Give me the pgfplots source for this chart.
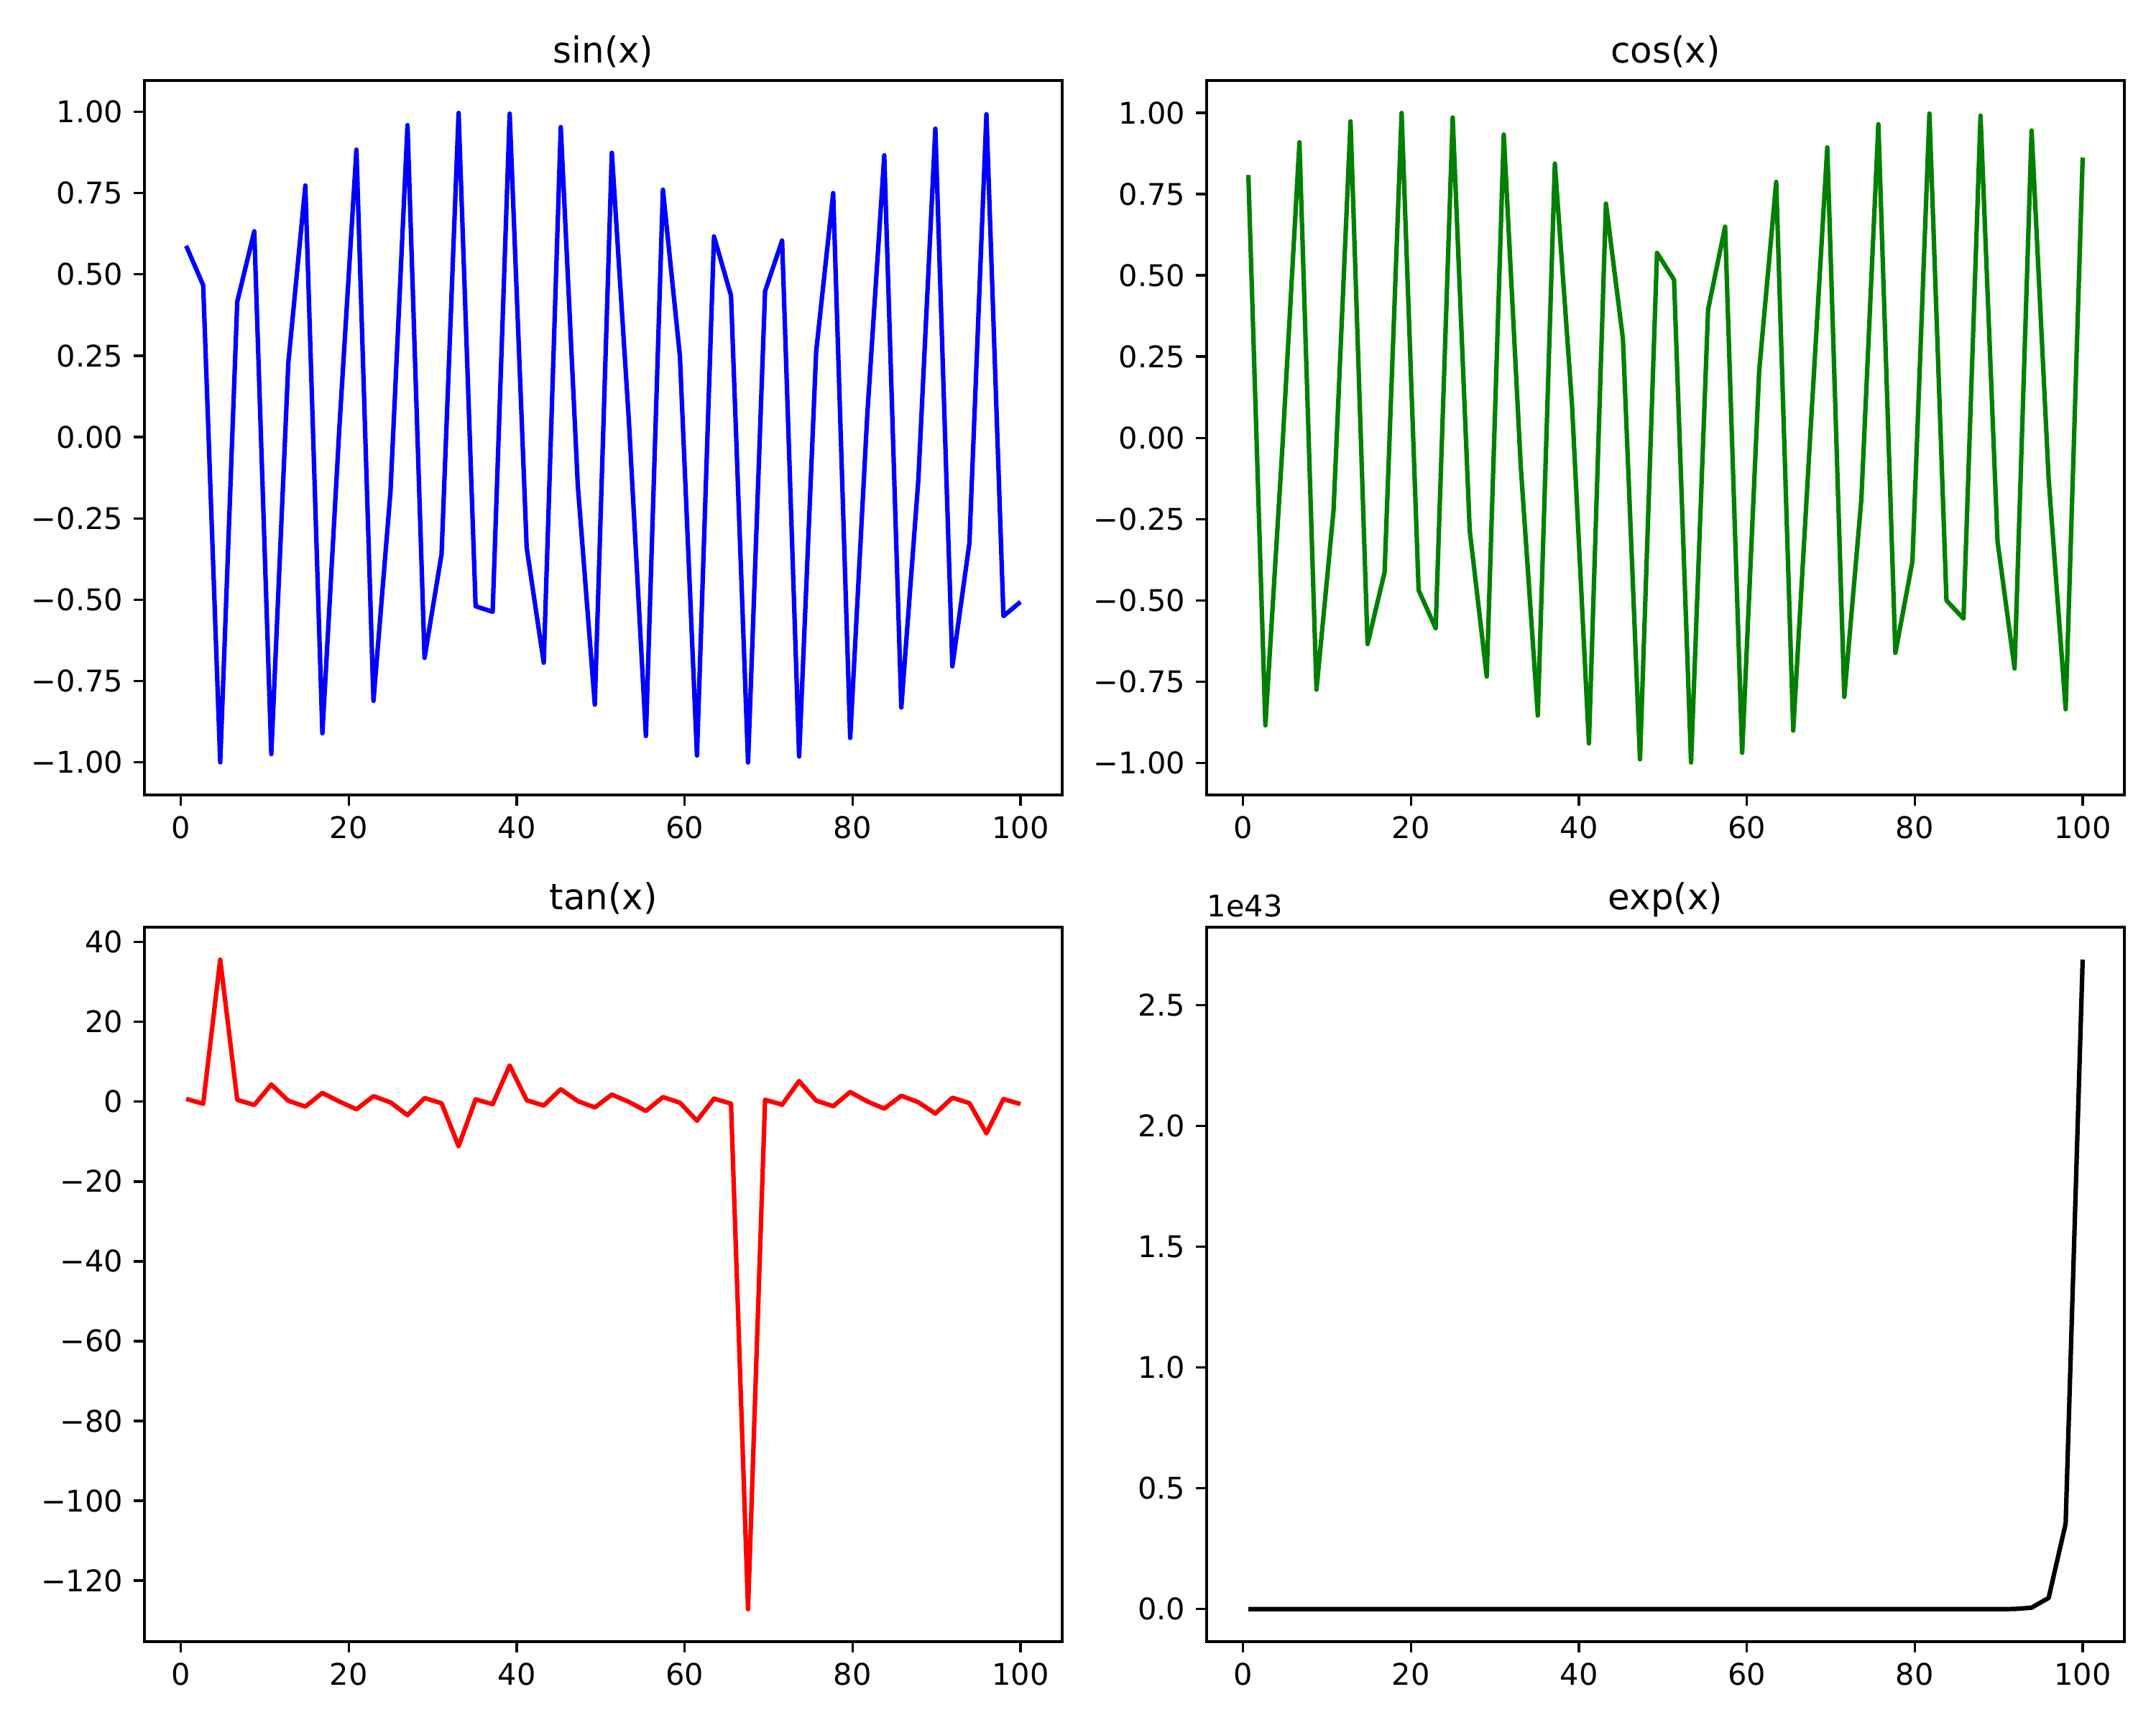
\documentclass[border=0pt]{standalone}
\usepackage{fontspec}
\setmainfont{DejaVu Sans}
\usepackage{pgfplots}
\usepackage{pgfplotstable}
\pgfplotsset{compat=1.18}
\definecolor{mplgreen}{RGB}{0,128,0}

\pgfplotstableread{
x sin cos tan exp
0.6283 0.5878 0.8090 0.7265 1.874
2.6563 0.4665 -0.8845 -0.5273 14.24
4.6843 -0.9996 -0.0281 35.60 108.2
6.7123 0.4161 0.9093 0.4576 822.3
8.7403 0.6323 -0.7747 -0.8161 6249
10.7683 -0.9743 -0.2253 4.324 4.748e4
12.7963 0.2279 0.9737 0.2341 3.608e5
14.8243 0.7731 -0.6343 -1.219 2.742e6
16.8523 -0.9104 -0.4137 2.201 2.083e7
18.8803 0.0307 0.9995 0.0307 1.583e8
20.9083 0.8833 -0.4688 -1.884 1.203e9
22.9363 -0.8106 -0.5857 1.384 9.142e9
24.9643 -0.1677 0.9858 -0.1701 6.947e10
26.9922 0.9586 -0.2847 -3.367 5.279e11
29.0202 -0.6786 -0.7345 0.9240 4.011e12
31.0482 -0.3595 0.9332 -0.3852 3.048e13
33.0762 0.9960 -0.0894 -11.14 2.316e14
35.1042 -0.5199 -0.8542 0.6086 1.760e15
37.1322 -0.5370 0.8436 -0.6366 1.337e16
39.1602 0.9940 0.1095 9.078 1.016e17
41.1882 -0.3405 -0.9402 0.3622 7.723e17
43.2162 -0.6933 0.7206 -0.9621 5.869e18
45.2442 0.9527 0.3040 3.134 4.460e19
47.2722 -0.1477 -0.9890 0.1494 3.389e20
49.3002 -0.8222 0.5692 -1.445 2.575e21
51.3282 0.8737 0.4865 1.796 1.957e22
53.3561 0.0509 -0.9987 -0.0510 1.487e23
55.3841 -0.9186 0.3952 -2.324 1.130e24
57.4121 0.7601 0.6498 1.170 8.586e24
59.4401 0.2475 -0.9689 -0.2555 6.524e25
61.4681 -0.9786 0.2056 -4.760 4.958e26
63.4961 0.6165 0.7874 0.7830 3.767e27
65.5241 0.4344 -0.9007 -0.4822 2.863e28
67.5521 -1.0000 0.0079 -127.2 2.175e29
69.5801 0.4485 0.8938 0.5018 1.653e30
71.6081 0.6040 -0.7970 -0.7579 1.256e31
73.6361 -0.9818 -0.1902 5.162 9.544e31
75.6641 0.2627 0.9649 0.2723 7.253e32
77.6921 0.7498 -0.6617 -1.133 5.511e33
79.7201 -0.9247 -0.3807 2.429 4.188e34
81.7481 0.0666 0.9978 0.0668 3.182e35
83.7760 0.8659 -0.5002 -1.731 2.418e36
85.8040 -0.8311 -0.5562 1.494 1.838e37
87.8320 -0.1322 0.9912 -0.1333 1.396e38
89.8600 0.9478 -0.3190 -2.971 1.061e39
91.8880 -0.7046 -0.7096 0.9929 8.061e39
93.9160 -0.3257 0.9455 -0.3445 6.125e40
95.9440 0.9921 -0.1251 -7.930 4.654e41
97.9720 -0.5502 -0.8350 0.6590 3.537e42
100.0000 -0.5064 0.8623 -0.5872 2.688e43
}\data

\pgfplotsset{mpl/.style={
  scale only axis, width=307.63pt, height=239.45pt, anchor=south west,
  axis line style={line width=0.8pt, black},
  tick align=outside, tick pos=left, major tick length=3.5pt,
  major tick style={line width=0.8pt, black},
  minor tick num=0,
  tick label style={font=\fontsize{10}{12}\selectfont},
  yticklabel style={inner xsep=3.5pt, inner ysep=0pt},
  xticklabel style={inner ysep=3.5pt, inner xsep=0pt},
  xmin=-4.3403, xmax=104.9686,
  xtick={0,20,40,60,80,100}, xticklabels={0,20,40,60,80,100},
  scaled ticks=false,
  every axis plot/.append style={line width=1.5pt, line join=round, mark=none},
}}
\tikzset{ttl/.style={anchor=base, inner sep=0pt, font=\fontsize{12}{14.4}\selectfont}}

\begin{document}
\begin{tikzpicture}
\path[use as bounding box] (0,0) rectangle (722.7pt,578.16pt);

\begin{axis}[mpl, name=ax1, at={(48.42pt,311.72pt)},
  ymin=-1.09977, ymax=1.09580,
  ytick={-1,-0.75,-0.5,-0.25,0,0.25,0.5,0.75,1},
  yticklabels={−1.00,−0.75,−0.50,−0.25,0.00,0.25,0.50,0.75,1.00}]
\addplot[color=blue] table[x=x,y=sin] {\data};
\end{axis}

\begin{axis}[mpl, name=ax2, at={(404.47pt,311.72pt)},
  ymin=-1.098616, ymax=1.099441,
  ytick={-1,-0.75,-0.5,-0.25,0,0.25,0.5,0.75,1},
  yticklabels={−1.00,−0.75,−0.50,−0.25,0.00,0.25,0.50,0.75,1.00}]
\addplot[color=mplgreen] table[x=x,y=cos] {\data};
\end{axis}

\begin{axis}[mpl, name=ax3, at={(48.42pt,27.94pt)},
  ymin=-135.33, ymax=43.74,
  ytick={-120,-100,-80,-60,-40,-20,0,20,40},
  yticklabels={−120,−100,−80,−60,−40,−20,0,20,40}]
\addplot[color=red] table[x=x,y=tan] {\data};
\end{axis}

\begin{axis}[mpl, name=ax4, at={(404.47pt,27.94pt)},
  ymin=-1.344e42, ymax=2.8224e43,
  ytick={0,5e42,1e43,1.5e43,2e43,2.5e43},
  yticklabels={0.0,0.5,1.0,1.5,2.0,2.5}]
\addplot[color=black] table[x=x,y=exp] {\data};
\end{axis}

\node[ttl] at ([yshift=6pt]ax1.north) {sin(x)};
\node[ttl] at ([yshift=6pt]ax2.north) {cos(x)};
\node[ttl] at ([yshift=6pt]ax3.north) {tan(x)};
\node[ttl] at ([yshift=6pt]ax4.north) {exp(x)};
\node[anchor=base west, inner sep=0pt, font=\fontsize{10}{12}\selectfont] at ([yshift=3.4pt]ax4.north west) {1e43};
\end{tikzpicture}
\end{document}
